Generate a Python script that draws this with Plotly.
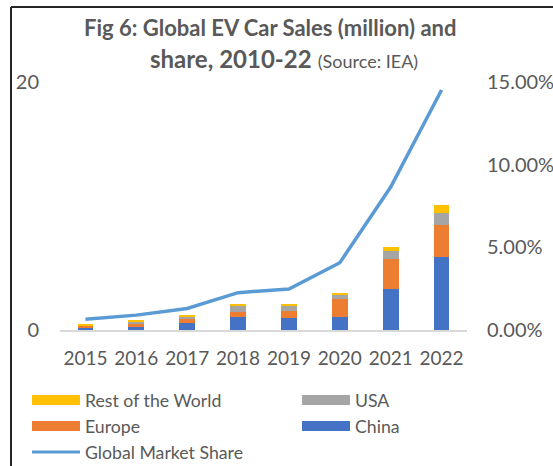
import plotly.graph_objects as go

years = ["2015", "2016", "2017", "2018", "2019", "2020", "2021", "2022"]
china = [0.17, 0.27, 0.56, 1.08, 0.97, 1.08, 3.33, 5.89]
europe = [0.19, 0.27, 0.38, 0.38, 0.56, 1.42, 2.37, 2.58]
usa = [0.04, 0.13, 0.16, 0.50, 0.43, 0.35, 0.67, 0.94]
rest = [0.02, 0.08, 0.08, 0.11, 0.13, 0.13, 0.30, 0.69]
share = [0.65, 0.90, 1.30, 2.26, 2.48, 4.07, 8.65, 14.52]

C_CHINA = "#4472C4"
C_EUR = "#ED7D31"
C_USA = "#A5A5A5"
C_ROW = "#FFC000"
C_LINE = "#5B9BD5"
TXT = "#595959"
FONT = "Lato"

fig = go.Figure()
for name, vals, col in [("China", china, C_CHINA), ("Europe", europe, C_EUR),
                        ("USA", usa, C_USA), ("Rest of the World", rest, C_ROW)]:
    fig.add_trace(go.Bar(x=years, y=vals, name=name, marker_color=col,
                         marker_line_width=0, showlegend=False))
fig.add_trace(go.Scatter(x=years, y=share, yaxis="y2", mode="lines",
                         line=dict(color=C_LINE, width=3.5), showlegend=False))

# legend entries
def leg(name, col, width, legend):
    fig.add_trace(go.Scatter(x=[None], y=[None], mode="lines", name=name,
                             line=dict(color=col, width=width), legend=legend))

leg("Rest of the World", C_ROW, 10, "legend")
leg("Europe", C_EUR, 10, "legend")
leg("Global Market Share", C_LINE, 3, "legend")
leg("USA", C_USA, 10, "legend2")
leg("China", C_CHINA, 10, "legend2")

W, H = 553, 466
L, R, T, B = 60, 467, 82, 330
pw, ph = R - L, B - T

def px(x):
    return (x - L) / pw

def py(y):
    return (B - y) / ph

def cx(x):
    return x / W

def cy(y):
    return 1 - y / H

legfont = dict(family=FONT, size=17.7, color=TXT)
fig.update_layout(
    width=W, height=H,
    margin=dict(l=L, r=W - R, t=T, b=H - B, autoexpand=False),
    paper_bgcolor="white", plot_bgcolor="white",
    barmode="stack", bargap=0.69,
    font=dict(family=FONT, color=TXT, size=19),
    xaxis=dict(showgrid=False, showline=True, linecolor="#D9D9D9", linewidth=1.5,
               ticks="", tickfont=dict(size=19, color=TXT), ticklabelstandoff=10),
    yaxis=dict(range=[0, 20], tickvals=[0, 20], showgrid=True, gridcolor="#D9D9D9",
               gridwidth=1.5, zeroline=False, showline=False, ticks="",
               tickfont=dict(size=20, color=TXT), ticklabelstandoff=20),
    yaxis2=dict(range=[0, 15], tickvals=[0, 5, 10, 15], overlaying="y", side="right",
                showgrid=False, zeroline=False, showline=False,
                ticktext=["0.00%", "5.00%", "10.00%", "15.00%"],
                tickfont=dict(size=20, color=TXT), ticklabelstandoff=19),
    legend=dict(xref="container", yref="container", x=cx(27), y=cy(382),
                xanchor="left", yanchor="top", traceorder="normal",
                orientation="v", font=legfont, itemwidth=48,
                bgcolor="rgba(0,0,0,0)", tracegroupgap=0),
    legend2=dict(xref="container", yref="container", x=cx(297), y=cy(382),
                 xanchor="left", yanchor="top", traceorder="normal",
                 orientation="v", font=legfont, itemwidth=48,
                 bgcolor="rgba(0,0,0,0)"),
    showlegend=True,
)

fig.add_annotation(xref="paper", yref="paper", x=px(270), y=py(27),
                   text="<b>Fig 6: Global EV Car Sales (million) and</b>",
                   showarrow=False, font=dict(family=FONT, size=22, color=TXT),
                   xanchor="center", yanchor="middle")
fig.add_annotation(xref="paper", yref="paper", x=px(284), y=py(59),
                   text="<b>share, 2010-22</b> <span style='font-size:18px'>(Source: IEA)</span>",
                   showarrow=False, font=dict(family=FONT, size=24, color=TXT),
                   xanchor="center", yanchor="middle")

# frame
fig.add_shape(type="line", xref="paper", yref="paper", x0=px(11), x1=px(11),
              y0=py(7), y1=py(470), line=dict(color="#262626", width=2))
fig.add_shape(type="line", xref="paper", yref="paper", x0=px(11), x1=px(560),
              y0=py(7), y1=py(7), line=dict(color="#262626", width=2))

fig.write_html("out.html")
